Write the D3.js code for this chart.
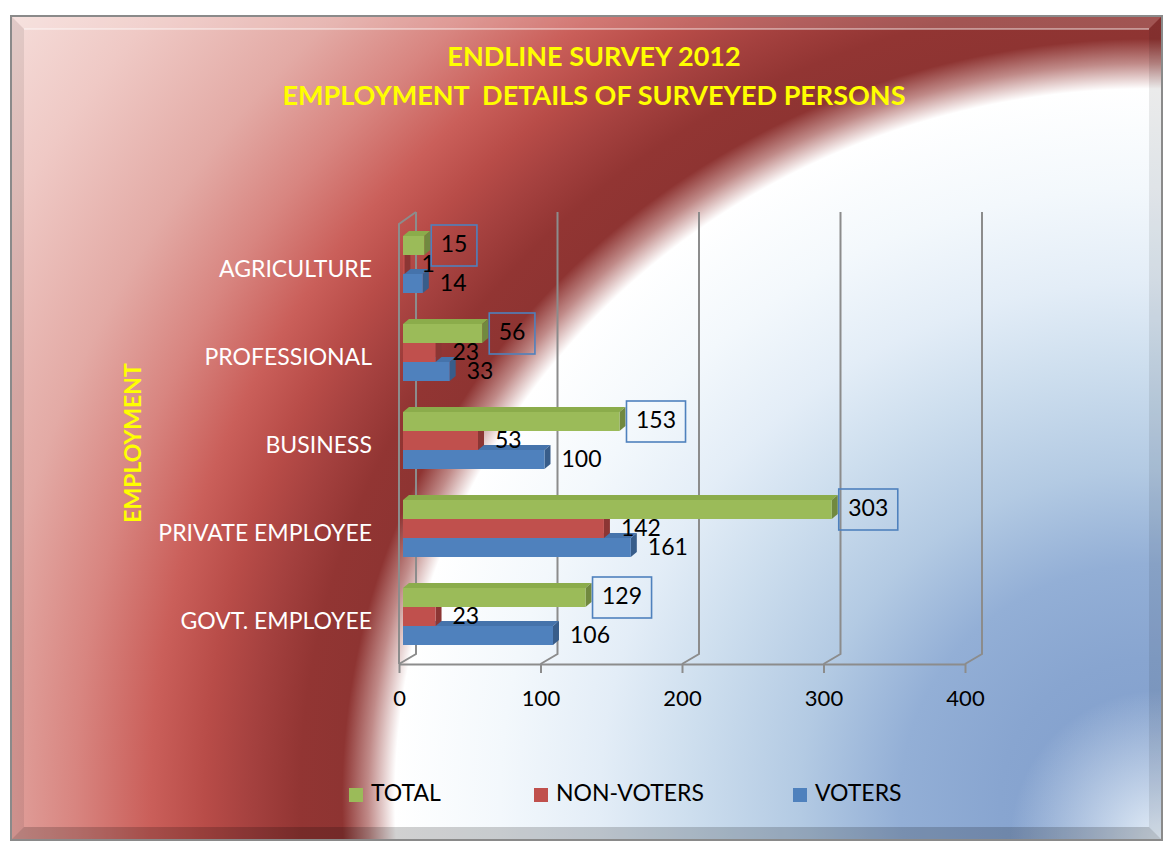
<!DOCTYPE html>
<html>
<head>
<meta charset="utf-8">
<script src="https://cdn.jsdelivr.net/npm/d3@7"></script>
<style>
  html, body { margin: 0; padding: 0; background: #ffffff; }
  svg { display: block; font-family: Lato, "Open Sans", "DejaVu Sans", sans-serif; }
</style>
</head>
<body>
<svg id="chart" width="1165" height="843"></svg>
<script>
// ---- data ----
const categories = ["GOVT. EMPLOYEE", "PRIVATE EMPLOYEE", "BUSINESS", "PROFESSIONAL", "AGRICULTURE"];
const seriesNames = ["TOTAL", "NON-VOTERS", "VOTERS"];
const totalValues = [129, 303, 153, 56, 15];
const nonVoterValues = [23, 142, 53, 23, 1];
const voterValues = [106, 161, 100, 33, 14];
const xTickValues = [0, 100, 200, 300, 400];
const titleLines = ["ENDLINE SURVEY 2012", "EMPLOYMENT  DETAILS OF SURVEYED PERSONS"];
const axisTitle = "EMPLOYMENT";

const seriesValues = { "TOTAL": totalValues, "NON-VOTERS": nonVoterValues, "VOTERS": voterValues };
const seriesColors = {
  "TOTAL":      { front: "#9bbb59", top: "#8bac4b", side: "#71893f" },
  "NON-VOTERS": { front: "#c0504d", top: "#a94341", side: "#8c3634" },
  "VOTERS":     { front: "#4f81bd", top: "#4573ab", side: "#385d8a" }
};

const svg = d3.select("#chart");
const frame = { x: 11, y: 16, w: 1151, h: 824 };

// ---- background fill: elliptical sweep from the lower-right corner ----
const defs = svg.append("defs");
const bgR = 1450;
const bg = defs.append("radialGradient")
  .attr("id", "bgFill")
  .attr("gradientUnits", "userSpaceOnUse")
  .attr("cx", 1150).attr("cy", 800).attr("r", bgR)
  .attr("gradientTransform", "translate(1150,800) scale(1,0.942) translate(-1150,-800)");
[
  [0, "#809dcb"],
  [150, "#88a5d0"],
  [250, "#93afd6"],
  [350, "#b3cae3"],
  [460, "#cddeee"],
  [550, "#e3edf7"],
  [650, "#f3f8fc"],
  [755, "#ffffff"],
  [782, "#c08a88"],
  [808, "#8e3432"],
  [850, "#923533"],
  [900, "#a5413f"],
  [945, "#b84c48"],
  [1000, "#ca5f5a"],
  [1075, "#d88580"],
  [1165, "#e3aaa5"],
  [1300, "#efc9c5"],
  [1450, "#f7e3e0"]
].forEach(([d, c]) => bg.append("stop").attr("offset", d / bgR).attr("stop-color", c));

const glow = defs.append("radialGradient")
  .attr("id", "cornerGlow")
  .attr("gradientUnits", "userSpaceOnUse")
  .attr("cx", 1160).attr("cy", 840).attr("r", 150);
glow.append("stop").attr("offset", 0).attr("stop-color", "#eef6fc").attr("stop-opacity", 0.9);
glow.append("stop").attr("offset", 1).attr("stop-color", "#eef6fc").attr("stop-opacity", 0);

["url(#bgFill)", "url(#cornerGlow)"].forEach(f => {
  svg.append("rect")
    .attr("x", frame.x).attr("y", frame.y).attr("width", frame.w).attr("height", frame.h)
    .attr("fill", f);
});

// bevelled frame edges
const bv = 13;
const fx0 = frame.x, fy0 = frame.y, fx1 = frame.x + frame.w, fy1 = frame.y + frame.h;
const bevels = [
  { pts: [[fx0, fy0], [fx1, fy0], [fx1 - bv, fy0 + bv], [fx0 + bv, fy0 + bv]], fill: "#ffffff", op: 0.16 },
  { pts: [[fx0, fy0], [fx0 + bv, fy0 + bv], [fx0 + bv, fy1 - bv], [fx0, fy1]], fill: "#000000", op: 0.08 },
  { pts: [[fx1, fy0], [fx1, fy1], [fx1 - bv, fy1 - bv], [fx1 - bv, fy0 + bv]], fill: "#000000", op: 0.08 },
  { pts: [[fx0, fy1], [fx0 + bv, fy1 - bv], [fx1 - bv, fy1 - bv], [fx1, fy1]], fill: "#000000", op: 0.18 }
];
svg.append("g").selectAll("polygon").data(bevels).join("polygon")
  .attr("points", d => d.pts.map(p => p.join(",")).join(" "))
  .attr("fill", d => d.fill).attr("fill-opacity", d => d.op);
svg.append("line")
  .attr("x1", fx0 + bv).attr("x2", fx1 - bv).attr("y1", fy0 + bv).attr("y2", fy0 + bv)
  .attr("stroke", "#ffffff").attr("stroke-opacity", 0.4).attr("stroke-width", 2);
svg.append("rect")
  .attr("x", frame.x).attr("y", frame.y).attr("width", frame.w).attr("height", frame.h)
  .attr("fill", "none").attr("stroke", "#8a8a8a").attr("stroke-width", 2);

// ---- titles ----
svg.append("g").selectAll("text").data(titleLines).join("text")
  .attr("x", 594).attr("y", (d, i) => 59 + i * 39)
  .attr("text-anchor", "middle").attr("dominant-baseline", "middle")
  .style("white-space", "pre")
  .attr("font-size", 27).attr("font-weight", "bold").attr("fill", "#ffff00")
  .text(d => d);

svg.append("text")
  .attr("transform", "translate(135,443) rotate(-90)")
  .attr("text-anchor", "middle").attr("dominant-baseline", "middle")
  .attr("font-size", 23).attr("font-weight", "bold").attr("fill", "#ffff00")
  .text(axisTitle);

// ---- scales ----
const x = d3.scaleLinear().domain([0, 400]).range([399, 965]);
const y = d3.scaleBand().domain(categories.slice().reverse()).range([224, 664]);
const inner = d3.scaleBand().domain(seriesNames).range([12, 69]);

const floorY = 664, topBackY = 212;
const depthX = 17, depthY = 10;          // wall depth
const barShift = 4;                       // bars sit a little behind the front plane
const barDX = 6, barDY = 5;               // bar thickness in depth

// ---- walls & gridlines ----
const grid = svg.append("g").attr("fill", "none").attr("stroke", "#8c8c8c").attr("stroke-width", 2);
xTickValues.forEach(v => {
  grid.append("path")
    .attr("d", `M${x(v) + depthX},${topBackY} V${floorY - depthY} L${x(v)},${floorY}`);
});
grid.append("path")
  .attr("d", `M${x(0)},${floorY} V${topBackY + depthY + 2} L${x(0) + depthX},${topBackY}`);

const axis = d3.axisBottom(x).tickValues(xTickValues).tickSize(9).tickSizeOuter(0).tickPadding(17);
const axisG = svg.append("g").attr("transform", `translate(0,${floorY})`).call(axis);
axisG.select(".domain").attr("stroke", "#8c8c8c").attr("stroke-width", 2);
axisG.selectAll(".tick line").attr("stroke", "#8c8c8c").attr("stroke-width", 2);
axisG.selectAll(".tick text").attr("font-size", 22).attr("fill", "#000000")
  .attr("font-family", "Lato, 'Open Sans', sans-serif");

// ---- category labels ----
svg.append("g").selectAll("text").data(categories).join("text")
  .attr("x", 372).attr("y", d => y(d) + y.bandwidth() / 2 + 3)
  .attr("text-anchor", "end").attr("dominant-baseline", "middle")
  .attr("font-size", 23).attr("fill", "#ffffff")
  .text(d => d);

// ---- 3D bars ----
const bars = [];
// lower bars first so the bar above covers their top face
["VOTERS", "NON-VOTERS", "TOTAL"].forEach(s => {
  categories.forEach((c, i) => {
    bars.push({ series: s, cat: c, value: seriesValues[s][i] });
  });
});

const barG = svg.append("g");
const pts = a => a.map(p => p.join(",")).join(" ");
bars.forEach(b => {
  const col = seriesColors[b.series];
  const x0 = x(0) + barShift, x1 = x(b.value) + barShift;
  const y0 = y(b.cat) + inner(b.series), h = inner.bandwidth();
  const g = barG.append("g");
  g.append("polygon").attr("fill", col.top)
    .attr("points", pts([[x0, y0], [x0 + barDX, y0 - barDY], [x1 + barDX, y0 - barDY], [x1, y0]]));
  g.append("polygon").attr("fill", col.side)
    .attr("points", pts([[x1, y0], [x1 + barDX, y0 - barDY], [x1 + barDX, y0 + h - barDY], [x1, y0 + h]]));
  g.append("rect").attr("fill", col.front)
    .attr("x", x0).attr("y", y0).attr("width", x1 - x0).attr("height", h);
});

// ---- data labels ----
const labelG = svg.append("g").attr("font-size", 23).attr("fill", "#000000");
bars.filter(b => b.series !== "TOTAL").forEach(b => {
  labelG.append("text")
    .attr("x", x(b.value) + barShift + 17)
    .attr("y", y(b.cat) + inner(b.series) + inner.bandwidth() / 2 + 2)
    .attr("dominant-baseline", "middle")
    .text(b.value);
});
bars.filter(b => b.series === "TOTAL").forEach(b => {
  const cy = y(b.cat) + inner(b.series) + inner.bandwidth() / 2;
  const bx = x(b.value) + barShift + 7;
  const t = labelG.append("text")
    .attr("y", cy + 1).attr("dominant-baseline", "middle").attr("text-anchor", "middle")
    .text(b.value);
  const tw = t.node().getComputedTextLength();
  const bw = tw + 19;
  t.attr("x", bx + bw / 2);
  labelG.insert("rect", "text")
    .attr("x", bx).attr("y", cy - 20.5).attr("width", bw).attr("height", 41)
    .attr("fill", "none").attr("stroke", "#4f81bd").attr("stroke-width", 1.6);
});

// ---- legend ----
const legendX = [349, 534, 793];
const legend = svg.append("g").selectAll("g").data(seriesNames).join("g")
  .attr("transform", (d, i) => `translate(${legendX[i]},795)`);
legend.append("rect").attr("x", 0).attr("y", -7).attr("width", 14).attr("height", 14)
  .attr("fill", d => seriesColors[d].front);
legend.append("text").attr("x", 22).attr("y", 0).attr("dominant-baseline", "middle")
  .attr("font-size", 23).attr("fill", "#000000").text(d => d);
</script>
</body>
</html>
